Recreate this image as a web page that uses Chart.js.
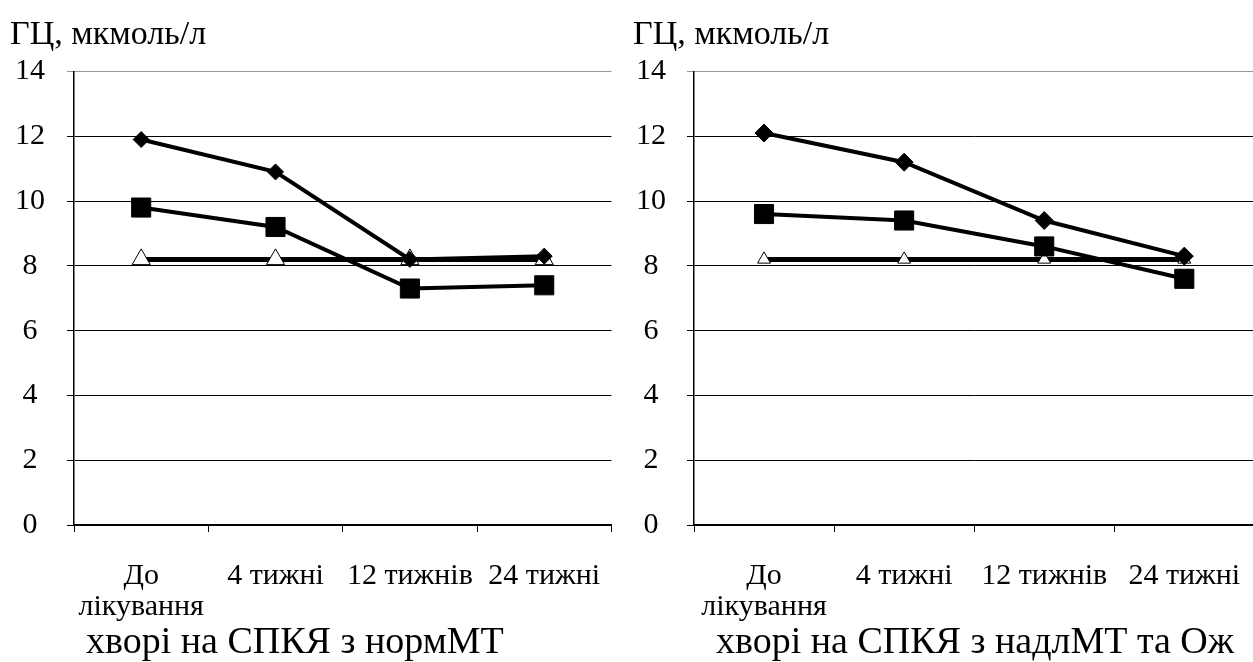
<!DOCTYPE html>
<html>
<head>
<meta charset="utf-8">
<script src="https://cdn.jsdelivr.net/npm/chart.js@4/dist/chart.umd.min.js"></script>
<style>
  html, body { margin: 0; padding: 0; background: #fff; overflow: hidden; }
  body { width: 1253px; height: 662px; position: relative; }
  .panel { position: absolute; top: 0; height: 662px; }
  #p1 { left: 0; width: 630px; }
  #p2 { left: 630px; width: 640px; }
  .cap { position: absolute; top: 620px; font-family: "Liberation Serif", "Times New Roman", serif; font-size: 38px; color: #000; white-space: nowrap; line-height: 40px; }
  #c1 { left: 86px; }
  #c2 { left: 716px; }
</style>
</head>
<body>
<div class="panel" id="p1"><canvas id="ch1"></canvas></div>
<div class="panel" id="p2"><canvas id="ch2"></canvas></div>
<div class="cap" id="c1">хворі на СПКЯ з нормМТ</div>
<div class="cap" id="c2">хворі на СПКЯ з надлМТ та Ож</div>
<script>
const categories = [["До", "лікування"], "4 тижні", "12 тижнів", "24 тижні"];
const yTitle = "ГЦ, мкмоль/л";
const yTicks = [0, 2, 4, 6, 8, 10, 12, 14];

// Panel 1: хворі на СПКЯ з нормМТ
const p1Diamond = [11.9, 10.9, 8.2, 8.3];
const p1Square = [9.8, 9.2, 7.3, 7.4];
const p1Triangle = [8.2, 8.2, 8.2, 8.2];

// Panel 2: хворі на СПКЯ з надлМТ та Ож
const p2Diamond = [12.1, 11.2, 9.4, 8.3];
const p2Square = [9.6, 9.4, 8.6, 7.6];
const p2Triangle = [8.2, 8.2, 8.2, 8.2];

const FONT = "'Liberation Serif', 'Times New Roman', serif";

function makeChart(id, dia, sq, tri, opts) {
  return new Chart(document.getElementById(id), {
    type: 'line',
    data: {
      labels: categories,
      datasets: [
        { data: tri, borderColor: '#000', borderWidth: 5, pointStyle: 'triangle',
          pointRadius: opts.triR, pointBackgroundColor: '#fff', pointBorderColor: '#000',
          pointBorderWidth: 1, tension: 0, order: 3 },
        { data: sq, borderColor: '#000', borderWidth: 4, pointStyle: 'rect',
          pointRadius: 13.5, pointBackgroundColor: '#000', pointBorderColor: '#000',
          pointBorderWidth: 1, tension: 0, order: 2 },
        { data: dia, borderColor: '#000', borderWidth: 4, pointStyle: 'rectRot',
          pointRadius: opts.diaR, pointBackgroundColor: '#000', pointBorderColor: '#000',
          pointBorderWidth: 1, tension: 0, order: 1 }
      ]
    },
    options: {
      responsive: true,
      maintainAspectRatio: false,
      animation: false,
      events: [],
      layout: { padding: { left: opts.padLeft, right: opts.padRight, top: 0, bottom: 11 } },
      plugins: {
        legend: { display: false },
        tooltip: { enabled: false },
        title: {
          display: true, text: yTitle, align: 'start', color: '#000',
          font: { family: FONT, size: 34, weight: 'normal', lineHeight: 1.2 },
          padding: { top: 15, bottom: 15.7 }
        }
      },
      scales: {
        x: {
          type: 'category',
          offset: true,
          grid: { display: true, offset: true, drawOnChartArea: false, drawTicks: true,
                  tickLength: 7, color: '#000', lineWidth: 1 },
          border: { display: true, color: '#000', width: 1.5 },
          ticks: { color: '#000', font: { family: FONT, size: 30, lineHeight: 1.05 },
                   autoSkip: false, maxRotation: 0, minRotation: 0, padding: 28 }
        },
        y: {
          min: 0, max: 14,
          afterBuildTicks: s => { s.ticks = yTicks.map(v => ({ value: v })); },
          afterFit: s => { s.width = opts.yWidth; },
          grid: { color: c => (c.tick && c.tick.value === 14) ? '#999' : '#000',
                  lineWidth: 1, drawTicks: true, tickLength: 7 },
          border: { display: true, color: '#000', width: 1.5 },
          ticks: { color: '#000', font: { family: FONT, size: 30 }, padding: opts.tickPad,
                   crossAlign: 'center' }
        }
      }
    }
  });
}

makeChart('ch1', p1Diamond, p1Square, p1Triangle, { padLeft: 10, padRight: 15, yWidth: 64, triR: 10.5, diaR: 8, tickPad: 22 });
makeChart('ch2', p2Diamond, p2Square, p2Triangle, { padLeft: 3, padRight: 4, yWidth: 61, triR: 7.5, diaR: 9, tickPad: 21 });
</script>
</body>
</html>
